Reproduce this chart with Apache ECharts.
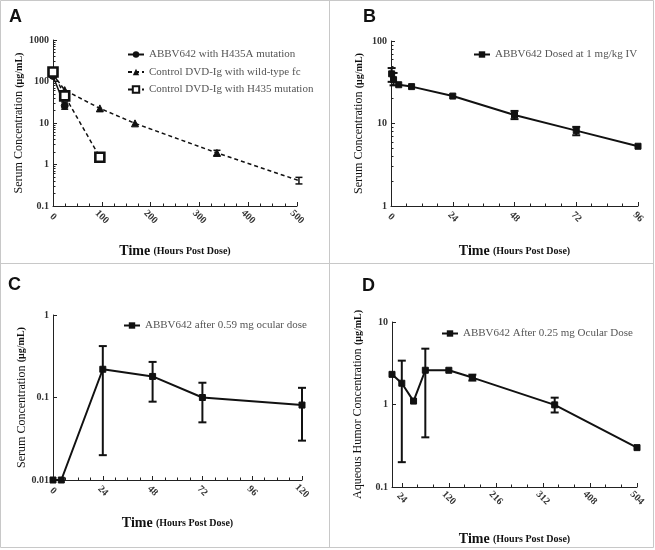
<!DOCTYPE html>
<html><head><meta charset="utf-8">
<script src="https://cdn.jsdelivr.net/npm/echarts@6/dist/echarts.min.js"></script>
<style>html,body{margin:0;padding:0;background:#fff}#c{width:655px;height:550px}</style>
</head><body><div id="c"></div>
<script>
// ---- Panel A data ----
const aNames = ['ABBV642 with H435A mutation','Control DVD-Ig with wild-type fc','Control DVD-Ig with H435 mutation'];
const aTimeH435A = [0, 24];
const aValH435A = [136, 26];
const aErrH435A = [[24, 21.5, 32]];
const aTimeWT = [0, 24, 96, 168, 336, 504];
const aValWT = [150, 62, 22.5, 9.8, 1.9, 0.41];
const aErrWT = [[336, 1.65, 2.2], [504, 0.34, 0.49]];
const aTimeH435 = [0, 24, 96];
const aValH435 = [170, 45, 1.5];
const aErrH435 = [[0, 150, 190], [24, 40, 52]];
// ---- Panel B data ----
const bName = 'ABBV642 Dosed at 1 mg/kg IV';
const bTime = [0.25, 1, 3, 8, 24, 48, 72, 96];
const bVal = [40, 34, 29.5, 28, 21.5, 12.7, 8.2, 5.3];
const bErr = [[0.25, 32, 47], [1, 29, 41], [48, 11.3, 14.2], [72, 7.2, 9.1]];
// ---- Panel C data ----
const cName = 'ABBV642 after 0.59 mg ocular dose';
const cTime = [0, 4, 24, 48, 72, 120];
const cVal = [0.01, 0.01, 0.22, 0.18, 0.10, 0.081];
const cErr = [[24, 0.02, 0.42], [48, 0.089, 0.27], [72, 0.05, 0.151], [120, 0.03, 0.131]];
// ---- Panel D data ----
const dName = 'ABBV642 After 0.25 mg Ocular Dose';
const dTime = [4, 24, 48, 72, 120, 168, 336, 504];
const dVal = [2.32, 1.81, 1.10, 2.6, 2.6, 2.12, 0.99, 0.30];
const dErr = [[24, 0.2, 3.4], [72, 0.4, 4.75], [168, 1.95, 2.3], [336, 0.8, 1.21]];
// ---- tick labels ----
const dTickLabels = [24, 120, 216, 312, 408, 504];
const dMinorTicks = [56, 88, 152, 184, 248, 280, 344, 376, 440, 472];
const logMinorA = [0.2,0.3,0.4,0.5,0.6,0.7,0.8,0.9,2,3,4,5,6,7,8,9,20,30,40,50,60,70,80,90,200,300,400,500,600,700,800,900];
const logMinorB = [2,3,4,5,6,7,8,9,20,30,40,50,60,70,80,90];

const zip = (t, v) => t.map((x, i) => [x, v[i]]);
const serif = 'Liberation Serif';
const labelStyle = {fontFamily: serif, fontWeight: 'bold', fontSize: 10, color: '#333'};
const xLabel = Object.assign({rotate: -45, align: 'center', verticalAlign: 'middle', margin: 11}, labelStyle);
const axisLine = {show: true, lineStyle: {color: '#222', width: 1}};
const xName = '{a|Time} {b|(Hours Post Dose)}';
const xNameStyle = {rich: {a: {fontFamily: serif, fontWeight: 'bold', fontSize: 14, color: '#111'}, b: {fontFamily: serif, fontWeight: 'bold', fontSize: 10, color: '#111'}}};
const yNameStyle = {rich: {a: {fontFamily: serif, fontSize: 12, color: '#111'}, b: {fontFamily: serif, fontWeight: 'bold', fontSize: 10, color: '#111'}}};

function xAxisDef(grid, min, max, interval, nameGap) {
  return {type: 'value', gridIndex: grid, position: 'bottom', min, max, interval, axisLine, splitLine: {show: false},
    axisTick: {show: true, inside: true, length: 4, lineStyle: {color: '#222'}},
    minorTick: {show: true, splitNumber: 4, length: 2.5, lineStyle: {color: '#222'}},
    axisLabel: xLabel, name: xName, nameLocation: 'middle', nameGap, nameTextStyle: xNameStyle};
}
function yAxisDef(grid, min, max, name, nameGap) {
  return {type: 'log', logBase: 10, gridIndex: grid, position: 'left', min, max, axisLine, splitLine: {show: false},
    axisTick: {show: true, inside: true, length: 4, lineStyle: {color: '#222'}},
    axisLabel: Object.assign({margin: 4, formatter: v => String(+v.toPrecision(3))}, labelStyle),
    name, nameLocation: 'middle', nameGap, nameTextStyle: yNameStyle};
}
function yMinor(grid, min, max, vals) {
  return {type: 'log', logBase: 10, gridIndex: grid, position: 'left', min, max, axisLine: {show: false}, splitLine: {show: false},
    axisLabel: {show: false}, axisTick: {show: true, inside: true, length: 2.5, customValues: vals, lineStyle: {color: '#222'}}};
}
function errSeries(xi, yi, data, capW, lw) {
  return {type: 'custom', xAxisIndex: xi, yAxisIndex: yi, data, z: 5, silent: true,
    renderItem: function (params, api) {
      const x = api.value(0), lo = api.value(1), hi = api.value(2);
      const p1 = api.coord([x, lo]), p2 = api.coord([x, hi]);
      const st = {stroke: '#111', lineWidth: lw};
      return {type: 'group', children: [
        {type: 'line', shape: {x1: p1[0], y1: p1[1], x2: p2[0], y2: p2[1]}, style: st},
        {type: 'line', shape: {x1: p1[0] - capW / 2, y1: p1[1], x2: p1[0] + capW / 2, y2: p1[1]}, style: st},
        {type: 'line', shape: {x1: p2[0] - capW / 2, y1: p2[1], x2: p2[0] + capW / 2, y2: p2[1]}, style: st}
      ]};
    }};
}
function lineSeries(name, xi, yi, data, opts) {
  return Object.assign({name, type: 'line', xAxisIndex: xi, yAxisIndex: yi, data, animation: false,
    symbol: 'rect', symbolSize: 6, z: 6,
    lineStyle: {color: '#111', width: 2}, itemStyle: {color: '#111', borderColor: '#111'}}, opts || {});
}
const legendText = {fontFamily: serif, fontSize: 11, color: '#555'};
function legendDef(names, left, top) {
  return {data: names, left, top, orient: 'vertical', itemWidth: 16, itemHeight: 8, itemGap: 6.5,
    textStyle: legendText, selectedMode: false, padding: 0};
}
const titleStyle = {fontFamily: 'Liberation Sans', fontWeight: 'bold', fontSize: 18, color: '#111'};

const chart = echarts.init(document.getElementById('c'));
chart.setOption({
  animation: false,
  backgroundColor: '#fff',
  title: [
    {text: 'A', left: 9, top: 8, textStyle: titleStyle, padding: 0},
    {text: 'B', left: 363, top: 8, textStyle: titleStyle, padding: 0},
    {text: 'C', left: 8, top: 276, textStyle: titleStyle, padding: 0},
    {text: 'D', left: 362, top: 277, textStyle: titleStyle, padding: 0}
  ],
  grid: [
    {left: 53, right: 358, top: 40, bottom: 344},
    {left: 391, right: 17, top: 41, bottom: 344},
    {left: 53, right: 353, top: 315, bottom: 70},
    {left: 392, right: 18, top: 322, bottom: 63}
  ],
  xAxis: [
    xAxisDef(0, 0, 500, 100, 38),
    xAxisDef(1, 0, 96, 24, 38),
    xAxisDef(2, 0, 120, 24, 36),
    {type: 'value', gridIndex: 3, position: 'bottom', min: 4, max: 504, axisLine, splitLine: {show: false},
      axisTick: {show: true, inside: true, length: 4, customValues: dTickLabels, lineStyle: {color: '#222'}},
      axisLabel: Object.assign({customValues: dTickLabels}, xLabel),
      name: xName, nameLocation: 'middle', nameGap: 45, nameTextStyle: xNameStyle},
    {type: 'value', gridIndex: 3, position: 'bottom', min: 4, max: 504, axisLine: {show: false}, splitLine: {show: false},
      axisLabel: {show: false}, axisTick: {show: true, inside: true, length: 2.5, customValues: dMinorTicks, lineStyle: {color: '#222'}}}
  ],
  yAxis: [
    yAxisDef(0, 0.1, 1000, '{a|Serum Concentration} {b|(μg/mL)}', 24),
    yAxisDef(1, 1, 100, '{a|Serum Concentration} {b|(μg/mL)}', 26),
    yAxisDef(2, 0.01, 1, '{a|Serum Concentration} {b|(μg/mL)}', 24),
    yAxisDef(3, 0.1, 10, '{a|Aqueous Humor Concentration} {b|(μg/mL)}', 28),
    yMinor(0, 0.1, 1000, logMinorA),
    yMinor(1, 1, 100, logMinorB)
  ],
  legend: [
    legendDef(aNames, 127, 49),
    legendDef([bName], 473, 49),
    legendDef([cName], 123, 320),
    legendDef([dName], 441, 328)
  ],
  series: [
    lineSeries(aNames[0], 0, 0, zip(aTimeH435A, aValH435A), {symbol: 'circle', symbolSize: 7, lineStyle: {color: '#111', width: 1.5}}),
    lineSeries(aNames[1], 0, 0, zip(aTimeWT, aValWT), {symbol: 'triangle', symbolSize: 7, lineStyle: {color: '#111', width: 1.5, type: [4, 3]}}),
    lineSeries(aNames[2], 0, 0, zip(aTimeH435, aValH435), {symbol: 'rect', symbolSize: 9, lineStyle: {color: '#111', width: 1.5, type: [4, 3]}, itemStyle: {color: '#fff', borderColor: '#111', borderWidth: 2.6}}),
    errSeries(0, 0, aErrH435A, 7, 1.5),
    errSeries(0, 0, aErrWT, 7, 1.5),
    errSeries(0, 0, aErrH435, 7, 1.5),
    lineSeries(bName, 1, 1, zip(bTime, bVal)),
    errSeries(1, 1, bErr, 8, 2),
    lineSeries(cName, 2, 2, zip(cTime, cVal)),
    errSeries(2, 2, cErr, 8, 2),
    lineSeries(dName, 3, 3, zip(dTime, dVal)),
    errSeries(3, 3, dErr, 8, 2)
  ],
  graphic: [
    {type: 'rect', shape: {x: 0.5, y: 0.5, width: 653, height: 547}, style: {fill: 'none', stroke: '#c8c8c8', lineWidth: 1}, silent: true},
    {type: 'line', shape: {x1: 329.5, y1: 0, x2: 329.5, y2: 548}, style: {stroke: '#c8c8c8', lineWidth: 1}, silent: true},
    {type: 'line', shape: {x1: 0, y1: 263.5, x2: 654, y2: 263.5}, style: {stroke: '#c8c8c8', lineWidth: 1}, silent: true}
  ]
});
</script></body></html>
